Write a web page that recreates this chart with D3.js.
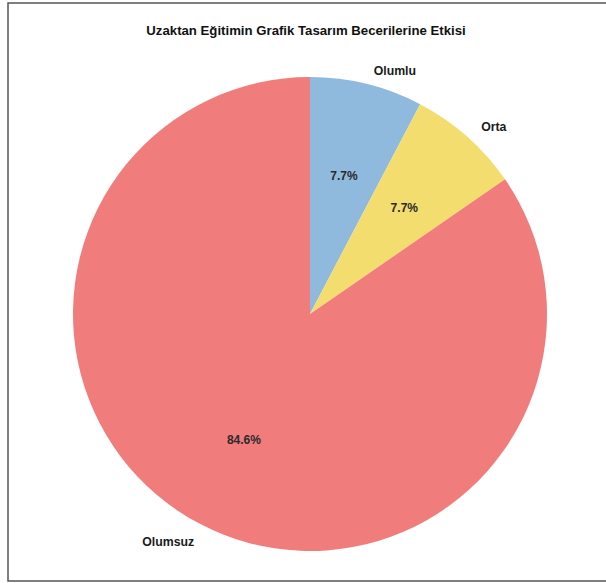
<!DOCTYPE html>
<html><head><meta charset="utf-8">
<script src="https://cdn.jsdelivr.net/npm/d3@7"></script>
<style>
html,body{margin:0;padding:0;background:#fff;}
svg{display:block;font-family:"Liberation Sans",Arial,Helvetica,sans-serif;}
</style></head>
<body>
<svg id="chart" width="606" height="583"></svg>
<script>
const title = "Uzaktan Eğitimin Grafik Tasarım Becerilerine Etkisi";
const categories = ["Olumlu", "Orta", "Olumsuz"];
const values = [1, 1, 11];
const colors = ["#8fb9dd", "#f3dd6f", "#f07c7c"];

const W = 606, H = 583;
const svg = d3.select("#chart");

// frame
svg.append("rect").attr("x", 8).attr("y", 3).attr("width", 620).attr("height", 578)
  .attr("fill", "#fff").attr("stroke", "#555").attr("stroke-width", 1.5);

svg.append("text").attr("x", 306).attr("y", 30)
  .attr("text-anchor", "middle").attr("dominant-baseline", "central")
  .attr("font-size", 13.2).attr("font-weight", "bold").attr("fill", "#111")
  .text(title);

const cx = 310, cy = 314, r = 237;
const g = svg.append("g").attr("transform", `translate(${cx},${cy})`);

const data = categories.map((c, i) => ({ cat: c, value: values[i], color: colors[i] }));
const total = d3.sum(values);
const pie = d3.pie().value(d => d.value).sort(null);
const arcs = pie(data);
const arc = d3.arc().innerRadius(0).outerRadius(r);

g.selectAll("path.slice").data(arcs).join("path")
  .attr("class", "slice").attr("d", arc).attr("fill", d => d.data.color);

const pctArc = d3.arc().innerRadius(r * 0.6).outerRadius(r * 0.6);
g.selectAll("text.pct").data(arcs).join("text")
  .attr("class", "pct")
  .attr("transform", d => { const [x, y] = pctArc.centroid(d); return `translate(${x},${y})`; })
  .attr("text-anchor", "middle").attr("dominant-baseline", "central")
  .attr("font-size", 12).attr("font-weight", "bold").attr("fill", "#2a2a2a")
  .text(d => (d.data.value / total * 100).toFixed(1) + "%");

const labArc = d3.arc().innerRadius(r * 1.07).outerRadius(r * 1.07);
g.selectAll("text.lab").data(arcs).join("text")
  .attr("class", "lab")
  .attr("transform", d => { const [x, y] = labArc.centroid(d); return `translate(${x + (x >= 0 ? 3 : 2)},${y + 3})`; })
  .attr("text-anchor", d => labArc.centroid(d)[0] >= 0 ? "start" : "end")
  .attr("dominant-baseline", "central")
  .attr("font-size", 12.3).attr("font-weight", "bold").attr("fill", "#1a1a1a")
  .text(d => d.data.cat);
</script>
</body></html>
